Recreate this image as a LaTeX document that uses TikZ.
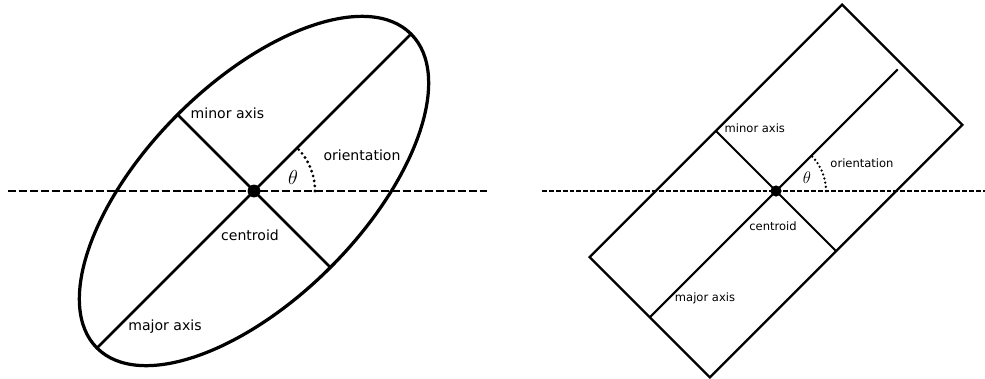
\documentclass[tikz,border=0pt]{standalone}
\usepackage{fontspec}
\setmainfont{DejaVu Sans}
\usetikzlibrary{calc}

\begin{document}
\begin{tikzpicture}[
    x=0.025cm, y=0.025cm,
    outline/.style={line width=2.3pt},
    thinoutline/.style={line width=1.6pt},
    axisline/.style={line width=1.8pt},
    thinaxis/.style={line width=1.5pt},
    refline/.style={line width=1.8pt, dash pattern=on 5.7pt off 2.1pt},
    thinref/.style={line width=1.4pt, dash pattern=on 3.5pt off 1.4pt},
    arcdots/.style={line width=2.2pt, line cap=round, dash pattern=on 0pt off 3.6pt},
    thinarcdots/.style={line width=1.8pt, line cap=round, dash pattern=on 0pt off 3pt},
    dot/.style={circle, fill=black, inner sep=0pt, minimum size=0.32cm},
    smalldot/.style={circle, fill=black, inner sep=0pt, minimum size=0.28cm},
    lbl/.style={inner sep=1pt, font=\fontsize{10}{12}\selectfont},
    smalllbl/.style={inner sep=1pt, font=\fontsize{8.2}{10}\selectfont}
  ]
    \useasboundingbox (0,0) rectangle (985,378);

    % ellipse
    \coordinate (cenL) at (254,187);
    \begin{scope}[shift={(cenL)}, rotate=45]
      \draw[outline] (0,0) ellipse [x radius=5.55cm, y radius=2.7cm];
      \coordinate (majorLa) at (-222,0);
      \coordinate (majorLb) at (222,0);
      \coordinate (minorLa) at (0,108);
      \coordinate (minorLb) at (0,-108);
    \end{scope}
    \coordinate (refLa) at (8,187);
    \coordinate (refLb) at (487,187);
    \draw[refline] (refLa) -- (refLb);
    \draw[axisline] (majorLa) -- (majorLb);
    \draw[axisline] (minorLa) -- (minorLb);
    \draw[arcdots] ($(cenL)+(61,0)$) arc[start angle=0, end angle=45, radius=1.525cm];
    \node[dot] (centroidL) at (cenL) {};
    \node[lbl, anchor=west] (minorLtext) at (189,265) {minor axis};
    \node[lbl] (orientLtext) at (362,223) {orientation};
    \node[lbl] (thetaL) at (293,201) {\fontsize{15}{17}\selectfont$\theta$};
    \node[lbl] (centroidLtext) at (250,143) {centroid};
    \node[lbl] (majorLtext) at (165,51) {major axis};

    % rectangle
    \coordinate (cenR) at (776,187);
    \begin{scope}[shift={(cenR)}, rotate=45]
      \draw[thinoutline] (-178.5,-85) rectangle (178.5,85);
      \coordinate (majorRa) at (-178.5,0);
      \coordinate (majorRb) at (172,0);
      \coordinate (minorRa) at (0,85);
      \coordinate (minorRb) at (0,-85);
    \end{scope}
    \coordinate (refRa) at (542,187);
    \coordinate (refRb) at (985,187);
    \draw[thinref] (refRa) -- (refRb);
    \draw[thinaxis] (majorRa) -- (majorRb);
    \draw[thinaxis] (minorRa) -- (minorRb);
    \draw[thinarcdots] ($(cenR)+(50,0)$) arc[start angle=0, end angle=45, radius=1.25cm];
    \node[smalldot] (centroidR) at (cenR) {};
    \node[smalllbl, anchor=west] (minorRtext) at (723,250) {minor axis};
    \node[smalllbl] (orientRtext) at (862,215) {orientation};
    \node[smalllbl] (thetaR) at (807,200) {\fontsize{13}{15}\selectfont$\theta$};
    \node[smalllbl] (centroidRtext) at (773,152) {centroid};
    \node[smalllbl] (majorRtext) at (705,80) {major axis};
  \end{tikzpicture}
\end{document}
